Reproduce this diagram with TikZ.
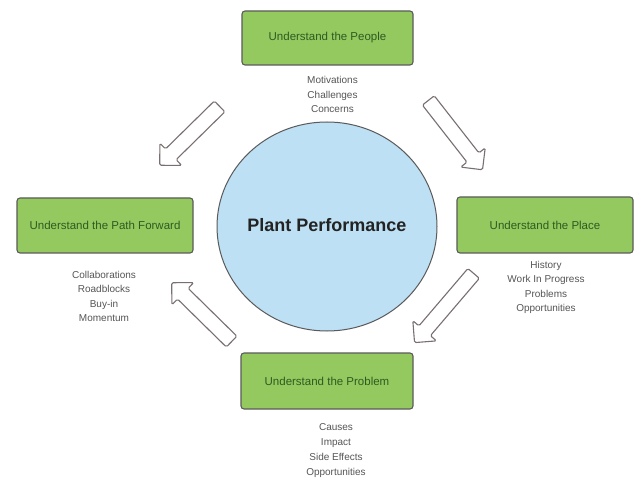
\documentclass[tikz,border=0pt]{standalone}
\usepackage{fontspec}
\setmainfont{Liberation Sans}
\usetikzlibrary{shapes.geometric,shapes.arrows}
\definecolor{boxgreen}{RGB}{148,201,96}
\definecolor{boxline}{RGB}{90,90,90}
\definecolor{boxtext}{RGB}{47,90,32}
\definecolor{lbltext}{RGB}{85,85,85}
\definecolor{circfill}{RGB}{190,224,244}
\definecolor{arrline}{RGB}{120,112,112}
\begin{document}
\begin{tikzpicture}[x=1pt,y=1pt,
  stagebox/.style={draw=boxline, fill=boxgreen, line width=1.1pt, rounded corners=3pt,
    text=boxtext, font=\fontsize{11.5}{13}\selectfont, inner sep=0pt},
  lbl/.style={align=center, text=lbltext, font=\fontsize{10}{14.5}\selectfont, inner sep=0pt},
  blockarrow/.style={single arrow, draw=arrline, line width=1.1pt, rounded corners=1.5pt,
    inner xsep=0pt, inner ysep=7pt, single arrow head extend=8pt, anchor=tail, fill=white}
]
\useasboundingbox (0,0) rectangle (637,477);
\fill[white] (0,0) rectangle (637,477);

% central circle
\node[ellipse, draw=boxline, line width=1pt, fill=circfill, minimum width=220pt, minimum height=209pt,
  inner sep=0pt] (plant) at (327,250.5) {};
\node[font=\fontsize{18}{20}\selectfont\bfseries, text={rgb,255:red,35;green,35;blue,35}, inner sep=0pt]
  (planttext) at (327,251.5) {Plant Performance};

% stage boxes
\node[stagebox, minimum width=171pt, minimum height=54pt] (people) at (327.5,439) {Understand the People};
\node[stagebox, minimum width=176pt, minimum height=56pt] (place) at (545,252) {Understand the Place};
\node[stagebox, minimum width=176pt, minimum height=55pt] (path) at (105,251.5) {Understand the Path Forward};
\node[stagebox, minimum width=172pt, minimum height=56pt] (problem) at (327,96) {Understand the Problem};

% labels
\node[lbl] (peoplelbl) at (332.5,382.5) {Motivations\\Challenges\\Concerns};
\node[lbl] (placelbl) at (546,189.5) {History\\Work In Progress\\Problems\\Opportunities};
\node[lbl] (pathlbl) at (104,180.5) {Collaborations\\Roadblocks\\Buy-in\\Momentum};
\node[lbl, font=\fontsize{10}{15}\selectfont] (problemlbl) at (336,26.5) {Causes\\Impact\\Side Effects\\Opportunities};

% block arrows
\node[blockarrow, rotate=224.5, minimum height=84pt] (arrtl) at (220,371) {};
\node[blockarrow, rotate=-52, minimum height=88pt] (arrtr) at (428,377) {};
\node[blockarrow, rotate=229.5, minimum height=91pt] (arrbr) at (474,204) {};
\node[blockarrow, rotate=135.5, minimum height=84pt] (arrbl) at (232,135) {};
\end{tikzpicture}
\end{document}
